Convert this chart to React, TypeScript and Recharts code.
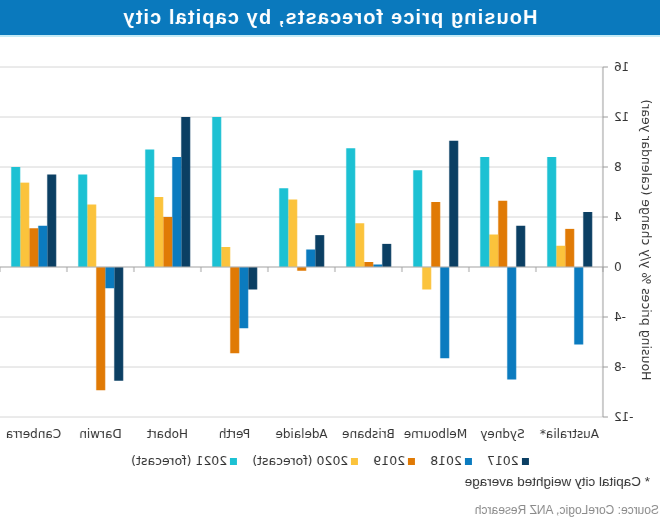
import { BarChart, Bar, XAxis, YAxis, CartesianGrid, ReferenceLine } from 'recharts';

// the reference is a mirrored picture, so the whole chart is drawn normally and flipped with CSS
const cities = ['Australia*', 'Sydney', 'Melbourne', 'Brisbane', 'Adelaide', 'Perth', 'Hobart', 'Darwin', 'Canberra'];
const y2017 = [4.4, 3.3, 10.1, 1.85, 2.55, -1.8, 12.0, -9.1, 7.4];
const y2018 = [-6.2, -9.0, -7.3, 0.2, 1.4, -4.9, 8.8, -1.7, 3.3];
const y2019 = [3.05, 5.3, 5.2, 0.4, -0.3, -6.9, 4.0, -9.85, 3.1];
const y2020 = [1.7, 2.6, -1.8, 3.5, 5.4, 1.6, 5.6, 5.0, 6.75];
const y2021 = [8.8, 8.8, 7.75, 9.5, 6.3, 12.0, 9.4, 7.4, 8.0];

const seriesKeys = ['s2017', 's2018', 's2019', 's2020', 's2021'];
const seriesNames = ['2017', '2018', '2019', '2020 (forecast)', '2021 (forecast)'];
const seriesColors = ['#0b3f63', '#0b7bbf', '#e07a05', '#fbc33c', '#1cc1d3'];
const yTicks = [-12, -8, -4, 0, 4, 8, 12, 16];

const chartData = cities.map((city, i) => ({
  city,
  s2017: y2017[i],
  s2018: y2018[i],
  s2019: y2019[i],
  s2020: y2020[i],
  s2021: y2021[i],
}));

export default function App() {
  return (
    <div
      style={{
        position: 'fixed',
        left: 0,
        top: 0,
        width: 660,
        height: 519,
        background: '#fff',
        overflow: 'hidden',
        transform: 'scaleX(-1)',
        fontFamily: '"DejaVu Sans", Verdana, sans-serif',
        color: '#333',
      }}
    >
      <div
        style={{
          position: 'absolute',
          left: 0,
          top: 0,
          width: 660,
          height: 35,
          background: '#0a79bd',
          borderBottom: '2px solid #c4ebf6',
          color: '#fff',
          fontFamily: '"Liberation Sans", Arial, sans-serif',
          fontWeight: 'bold',
          fontSize: 20,
          letterSpacing: 1.1,
          lineHeight: '35px',
          textAlign: 'center',
        }}
      >
        Housing price forecasts, by capital city
      </div>

      <div style={{ position: 'absolute', left: 0, top: 0 }}>
        <BarChart
          width={660}
          height={460}
          data={chartData}
          margin={{ top: 67, right: 0, bottom: 13, left: 0 }}
          barCategoryGap="16%"
          barGap={0}
        >
          <CartesianGrid vertical={false} stroke="#d6d6d6" />
          <XAxis
            dataKey="city"
            height={30}
            axisLine={false}
            tickLine={false}
            tickSize={0}
            tickMargin={12}
            interval={0}
            tick={{ fontSize: 12, fill: '#333' }}
          />
          <YAxis
            width={57}
            domain={[-12, 16]}
            ticks={yTicks}
            interval={0}
            stroke="#9a9a9a"
            tickSize={5}
            tickMargin={6}
            tick={{ fontSize: 12, fill: '#333' }}
          />
          <ReferenceLine y={0} stroke="#b5b5b5" />
          {cities.map((c) => (
            <ReferenceLine
              key={c}
              segment={[{ x: c, y: 0 }, { x: c, y: -0.4 }]}
              position="start"
              stroke="#a5a5a5"
            />
          ))}
          <ReferenceLine
            segment={[{ x: cities[cities.length - 1], y: 0 }, { x: cities[cities.length - 1], y: -0.4 }]}
            position="end"
            stroke="#a5a5a5"
          />
          {seriesKeys.map((k, i) => (
            <Bar key={k} dataKey={k} name={seriesNames[i]} fill={seriesColors[i]} isAnimationActive={false} />
          ))}
        </BarChart>
      </div>

      <div
        style={{
          position: 'absolute',
          left: 13,
          top: 240,
          transform: 'translate(-50%, -50%) rotate(-90deg)',
          whiteSpace: 'nowrap',
          fontSize: 12.5,
        }}
      >
        Housing prices % y/y change (calendar year)
      </div>

      <div
        style={{
          position: 'absolute',
          left: 0,
          top: 453,
          width: 660,
          display: 'flex',
          justifyContent: 'center',
          fontSize: 12.5,
          lineHeight: '16px',
        }}
      >
        {seriesNames.map((n, i) => (
          <div key={n} style={{ display: 'flex', alignItems: 'center', marginRight: i < seriesNames.length - 1 ? 15 : 0 }}>
            <span style={{ width: 7, height: 7, background: seriesColors[i], marginRight: 3, display: 'inline-block' }} />
            <span>{n}</span>
          </div>
        ))}
      </div>

      <div
        style={{
          position: 'absolute',
          left: 10,
          top: 474,
          fontFamily: '"Liberation Sans", Arial, sans-serif',
          fontSize: 13.5,
          whiteSpace: 'nowrap',
        }}
      >
        * Capital city weighted average
      </div>

      <div
        style={{
          position: 'absolute',
          left: 1,
          top: 503,
          fontFamily: '"Liberation Sans", Arial, sans-serif',
          fontSize: 12,
          color: '#8a8a8a',
          whiteSpace: 'nowrap',
        }}
      >
        Source: CoreLogic, ANZ Research
      </div>
    </div>
  );
}
